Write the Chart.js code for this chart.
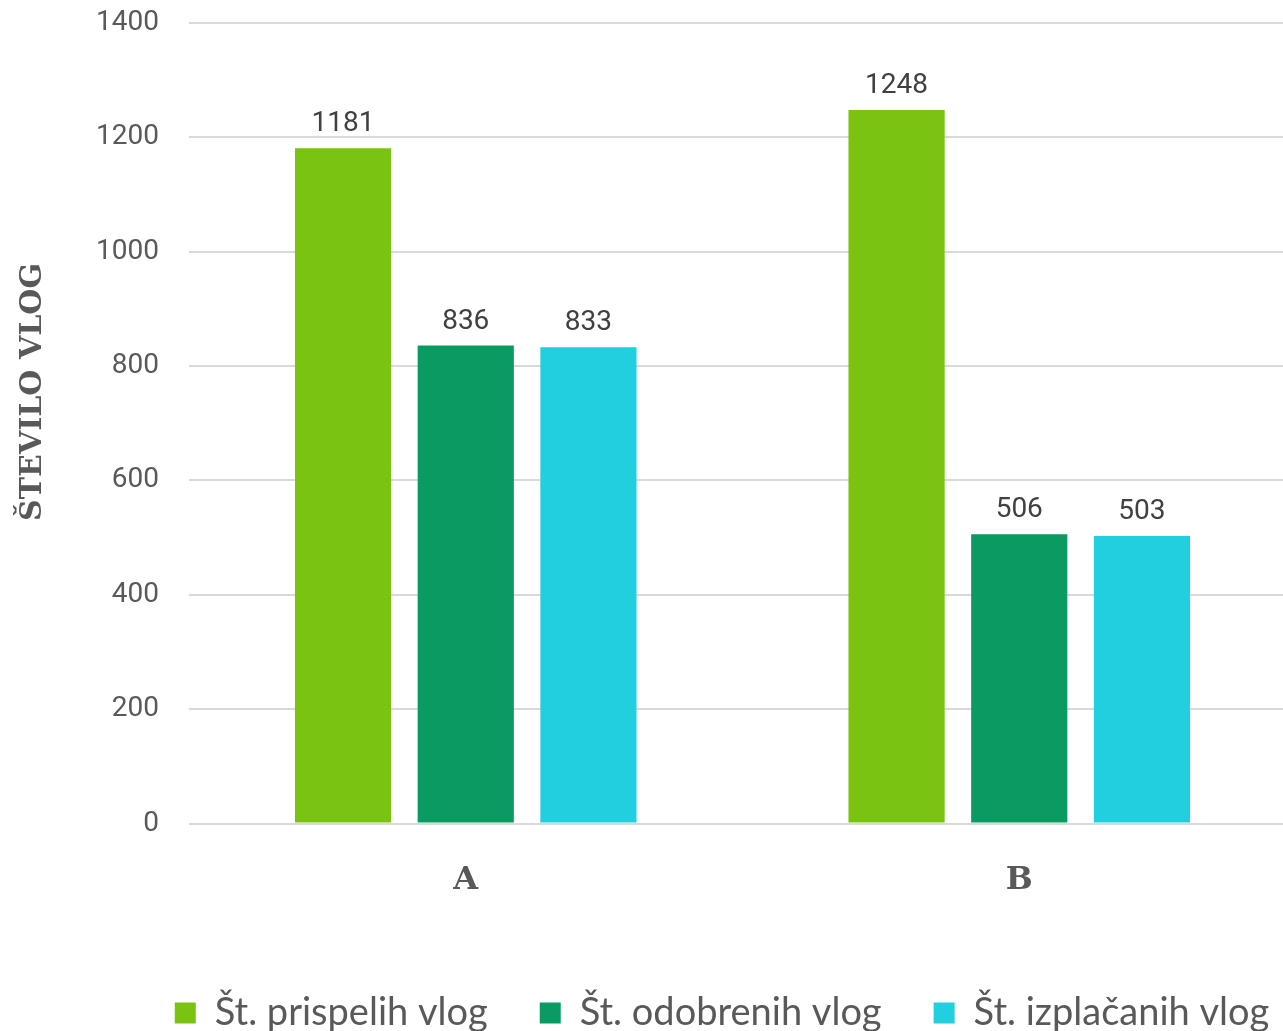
<!DOCTYPE html>
<html>
<head>
<meta charset="utf-8">
<script src="https://cdn.jsdelivr.net/npm/chart.js@4.4.0/dist/chart.umd.min.js"></script>
<style>
    html, body { margin: 0; padding: 0; background: #fff; overflow: hidden; }
    #wrap { width: 1296px; height: 1031px; }
</style>
</head>
<body>
<div id="wrap"><canvas id="vlogeChart"></canvas></div>
<script>
const categories = ['A', 'B'];
const prispele = [1181, 1248];
const odobrene = [836, 506];
const izplacane = [833, 503];
const yTicks = [0, 200, 400, 600, 800, 1000, 1200, 1400];

// Value labels above each bar
const barLabels = {
    id: 'barLabels',
    afterDatasetsDraw(chart) {
        const ctx = chart.ctx;
        ctx.save();
        ctx.font = '28px Roboto, "Liberation Sans", sans-serif';
        ctx.fillStyle = '#404040';
        ctx.textAlign = 'center';
        ctx.textBaseline = 'alphabetic';
        chart.data.datasets.forEach((ds, i) => {
            chart.getDatasetMeta(i).data.forEach((bar, j) => {
                ctx.fillText(ds.data[j], bar.x, bar.y - 17);
            });
        });
        ctx.restore();
    }
};

// Legend sits a bit right of the canvas centre in the original
const legendShift = {
    id: 'legendShift',
    afterLayout(chart) {
        chart.legend.left += 74;
        chart.legend.right += 74;
    }
};

document.addEventListener('DOMContentLoaded', function () {
    Chart.defaults.font.family = 'Roboto, "Liberation Sans", sans-serif';
    Chart.defaults.color = '#595959';

    new Chart(document.getElementById('vlogeChart'), {
        type: 'bar',
        data: {
            labels: categories,
            datasets: [{
                label: 'Št. prispelih vlog',
                data: prispele,
                backgroundColor: '#7AC310'
            }, {
                label: 'Št. odobrenih vlog',
                data: odobrene,
                backgroundColor: '#0A9B62'
            }, {
                label: 'Št. izplačanih vlog',
                data: izplacane,
                backgroundColor: '#22CFDF'
            }]
        },
        options: {
            responsive: true,
            maintainAspectRatio: false,
            animation: false,
            barPercentage: 0.784,
            categoryPercentage: 0.665,
            layout: {
                padding: { top: 23, right: 0, bottom: -11, left: 0 }
            },
            plugins: {
                tooltip: { enabled: false },
                legend: {
                    position: 'bottom',
                    align: 'center',
                    labels: {
                        font: { family: 'Lato, "Open Sans", sans-serif', size: 38 },
                        color: '#595959',
                        boxWidth: 21,
                        boxHeight: 21,
                        padding: 52
                    }
                }
            },
            scales: {
                y: {
                    min: 0,
                    max: 1400,
                    afterBuildTicks: function (axis) {
                        axis.ticks = yTicks.map(v => ({ value: v }));
                    },
                    afterFit: function (axis) {
                        axis.width = 189;
                        axis.paddingTop = 0;
                        axis.paddingBottom = 0;
                    },
                    border: { display: false },
                    grid: {
                        color: '#d9d9d9',
                        lineWidth: 2,
                        drawTicks: false
                    },
                    ticks: {
                        padding: 30,
                        font: { size: 28 },
                        color: '#595959',
                        callback: function (value) {
                            return String(value);
                        }
                    },
                    title: {
                        display: true,
                        text: '      ŠTEVILO VLOG',
                        color: '#595959',
                        font: { family: '"DejaVu Serif", serif', size: 30, weight: 'bold' },
                        padding: { top: 15, bottom: 10 }
                    }
                },
                x: {
                    afterFit: function (axis) {
                        axis.height += 12;
                    },
                    border: { display: false },
                    grid: { display: false },
                    ticks: {
                        padding: 30,
                        font: { family: '"DejaVu Serif", serif', size: 32, weight: 'bold' },
                        color: '#595959'
                    }
                }
            }
        },
        plugins: [barLabels, legendShift]
    });
});
</script>
</body>
</html>
